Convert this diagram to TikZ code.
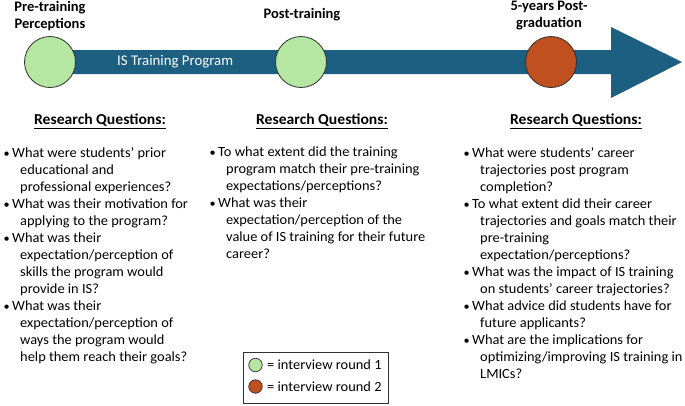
\documentclass[tikz,border=0pt]{standalone}
\usepackage{fontspec}
\usepackage{graphicx}
\setmainfont{Carlito}[FakeStretch=1.03]
\newfontfamily\narrowfont{Carlito}
\usetikzlibrary{shapes.geometric}
\definecolor{arrowblue}{HTML}{1D5F80}
\definecolor{lgreen}{HTML}{B5E6A2}
\definecolor{rorange}{HTML}{C0501F}
\definecolor{cedge}{HTML}{303030}
\newcommand{\qitem}[1]{\par\hangindent=16.5pt\hangafter=1\noindent\makebox[8.5pt][l]{\scalebox{0.85}{\textbullet}}#1}
\begin{document}
\begin{tikzpicture}[x=1pt,y=-1pt,
  toplab/.style={font=\narrowfont\fontsize{14.5}{17}\selectfont\bfseries, align=center, inner sep=0},
  dot/.style={circle, draw=cedge, line width=0.8pt, minimum size=51pt, inner sep=0},
  rqhead/.style={font=\fontsize{15.2}{17}\selectfont\bfseries, inner sep=0},
  uline/.style={line width=0.8pt, black},
  qlist/.style={font=\fontsize{14}{17}\selectfont, anchor=north west, inner sep=0, align=left},
  legdot/.style={circle, draw=cedge, line width=0.7pt, minimum size=13.5pt, inner sep=0},
  legtext/.style={font=\fontsize{14}{15}\selectfont, anchor=west, inner sep=0}
]
\useasboundingbox (0,0) rectangle (685,405);
\fill[white] (0,0) rectangle (685,405);
% arrow
\fill[arrowblue] (50,50) -- (611,50) -- (611,27) -- (682,62) -- (611,98) -- (611,74) -- (50,74) -- cycle;
\node[font=\narrowfont\fontsize{14.8}{17}\selectfont, text=white, inner sep=0, anchor=west] (prog) at (117,62) {IS Training Program};
% circles
\node[dot, fill=lgreen] (c1) at (50,62) {};
\node[dot, fill=lgreen] (c2) at (301,62) {};
\node[dot, fill=rorange] (c3) at (551,62) {};
% top labels
\node[toplab] (l1) at (50,16) {Pre-training\\Perceptions};
\node[toplab] (l2) at (302,15) {Post-training};
\node[toplab] (l3) at (549,16) {5-years Post-\\graduation};
% headings
\node[rqhead] (h1) at (100,120) {Research Questions:};
\node[rqhead] (h2) at (322,120) {Research Questions:};
\node[rqhead] (h3) at (576,120) {Research Questions:};
\draw[uline] ([yshift=-1.5pt]h1.south west) -- ([yshift=-1.5pt]h1.south east);
\draw[uline] ([yshift=-1.5pt]h2.south west) -- ([yshift=-1.5pt]h2.south east);
\draw[uline] ([yshift=-1.5pt]h3.south west) -- ([yshift=-1.5pt]h3.south east);
% lists
\node[qlist] (q1) at (3.5,147) {\parbox{225pt}{\baselineskip=17pt
\qitem{What were students’ prior\\educational and\\professional experiences?}
\qitem{What was their motivation for\\applying to the program?}
\qitem{What was their\\expectation/perception of\\skills the program would\\provide in IS?}
\qitem{What was their\\expectation/perception of\\ways the program would\\help them reach their goals?}}};
\node[qlist] (q2) at (209.5,147) {\parbox{230pt}{\baselineskip=17pt
\qitem{To what extent did the training\\program match their pre-training\\expectations/perceptions?}
\qitem{What was their\\expectation/perception of the\\value of IS training for their future\\career?}}};
\node[qlist] (q3) at (463.5,147) {\parbox{220pt}{\baselineskip=17pt
\qitem{What were students’ career\\trajectories post program\\completion?}
\qitem{To what extent did their career\\trajectories and goals match their\\pre-training\\expectation/perceptions?}
\qitem{What was the impact of IS training\\on students’ career trajectories?}
\qitem{What advice did students have for\\future applicants?}
\qitem{What are the implications for\\optimizing/improving IS training in\\LMICs?}}};
% legend
\draw[cedge, line width=0.8pt] (243,352) rectangle (388,403);
\node[legdot, fill=lgreen] (d1) at (255.5,365) {};
\node[legdot, fill=rorange] (d2) at (255.5,386.5) {};
\node[legtext] (t1) at (267,365) {= interview round 1};
\node[legtext] (t2) at (267,387) {= interview round 2};
\end{tikzpicture}
\end{document}
